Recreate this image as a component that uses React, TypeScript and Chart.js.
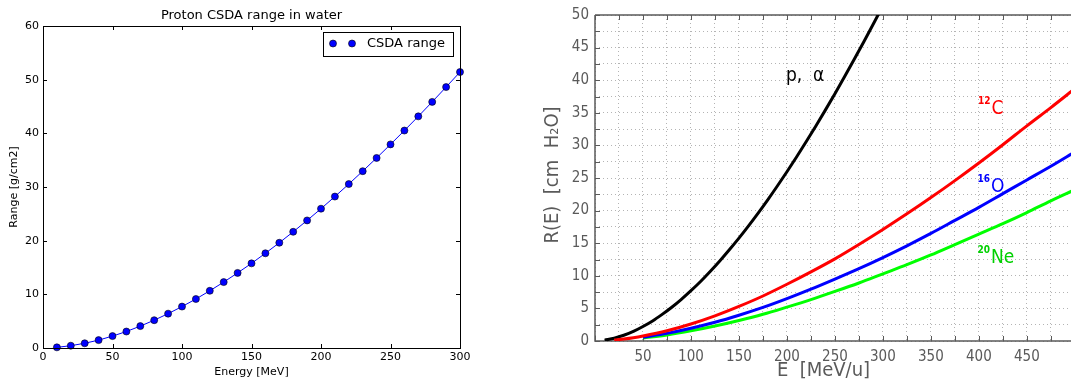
import React, { useEffect, useRef } from 'react';
import { Chart, registerables } from 'chart.js';

Chart.register(...registerables);

// ---------- Left panel data: proton CSDA range in water ----------
const protonEnergy = [10, 20, 30, 40, 50, 60, 70, 80, 90, 100, 110, 120, 130, 140, 150, 160, 170, 180, 190, 200, 210, 220, 230, 240, 250, 260, 270, 280, 290, 300];
const protonRange = [0.12, 0.43, 0.88, 1.47, 2.22, 3.07, 4.08, 5.18, 6.4, 7.72, 9.13, 10.66, 12.28, 13.99, 15.77, 17.65, 19.61, 21.65, 23.77, 25.96, 28.22, 30.55, 32.95, 35.41, 37.94, 40.52, 43.16, 45.86, 48.62, 51.42];
const leftXTicks = [0, 50, 100, 150, 200, 250, 300];
const leftYTicks = [0, 10, 20, 30, 40, 50, 60];

// ---------- Right panel data: ion ranges R(E) in water ----------
const carbonEnergy = [20, 30, 40, 50, 75, 100, 125, 150, 175, 200, 225, 250, 275, 300, 325, 350, 375, 400, 425, 450, 475, 500];
const carbonRange = [0.14, 0.3, 0.5, 0.76, 1.56, 2.6, 3.85, 5.3, 6.9, 8.7, 10.6, 12.6, 14.8, 17.1, 19.5, 22.0, 24.6, 27.3, 30.1, 33.0, 35.8, 38.7];
const heavyEnergy = [50, 75, 100, 125, 150, 175, 200, 225, 250, 275, 300, 325, 350, 375, 400, 425, 450, 475, 500];
const oxygenRange = [0.57, 1.17, 1.95, 2.87, 3.95, 5.15, 6.5, 7.95, 9.5, 11.1, 12.8, 14.6, 16.5, 18.5, 20.5, 22.6, 24.7, 26.8, 29.0];
const neonRange = [0.45, 0.93, 1.56, 2.3, 3.15, 4.1, 5.2, 6.35, 7.6, 8.9, 10.3, 11.7, 13.2, 14.8, 16.4, 18.0, 19.7, 21.5, 23.2];
const rightXGrid = [0, 25, 50, 75, 100, 125, 150, 175, 200, 225, 250, 275, 300, 325, 350, 375, 400, 425, 450, 475];
const rightXLabels = [50, 100, 150, 200, 250, 300, 350, 400, 450];
const rightYGrid = [0, 2.5, 5, 7.5, 10, 12.5, 15, 17.5, 20, 22.5, 25, 27.5, 30, 32.5, 35, 37.5, 40, 42.5, 45, 47.5, 50];
const rightYLabels = [0, 5, 10, 15, 20, 25, 30, 35, 40, 45, 50];

const FONT = "'DejaVu Sans', sans-serif";
const RFONT = "'DejaVu Sans Condensed', 'DejaVu Sans', sans-serif";
const GRAYTXT = '#5a5a5a';

const xy = (xs: number[], ys: number[]) => xs.map((x, i) => ({ x, y: ys[i] }));

// ---------- Left decorations ----------
const leftDecor = {
  id: 'leftDecor',
  afterDraw(chart: any) {
    const { ctx, chartArea: a, scales } = chart;
    ctx.save();
    ctx.strokeStyle = '#000';
    ctx.lineWidth = 1;
    ctx.strokeRect(Math.round(a.left) + 0.5, Math.round(a.top) + 0.5, Math.round(a.right - a.left), Math.round(a.bottom - a.top));
    ctx.beginPath();
    leftXTicks.forEach((v) => {
      const x = Math.round(scales.x.getPixelForValue(v)) + 0.5;
      ctx.moveTo(x, a.bottom); ctx.lineTo(x, a.bottom - 4);
      ctx.moveTo(x, a.top); ctx.lineTo(x, a.top + 4);
    });
    leftYTicks.forEach((v) => {
      const y = Math.round(scales.y.getPixelForValue(v)) + 0.5;
      ctx.moveTo(a.left, y); ctx.lineTo(a.left + 4, y);
      ctx.moveTo(a.right, y); ctx.lineTo(a.right - 4, y);
    });
    ctx.stroke();
    ctx.fillStyle = '#000';
    ctx.font = `13px ${FONT}`;
    ctx.textAlign = 'center';
    ctx.textBaseline = 'middle';
    ctx.fillText('Proton CSDA range in water', (a.left + a.right) / 2, 16);
    ctx.font = `11px ${FONT}`;
    ctx.fillText('Energy [MeV]', (a.left + a.right) / 2, 372);
    ctx.save();
    ctx.translate(14, (a.top + a.bottom) / 2);
    ctx.rotate(-Math.PI / 2);
    ctx.fillText('Range [g/cm2]', 0, 0);
    ctx.restore();
    // legend
    ctx.fillStyle = '#fff';
    ctx.fillRect(323.5, 32.5, 130, 24);
    ctx.strokeStyle = '#000';
    ctx.lineWidth = 1;
    ctx.strokeRect(323.5, 32.5, 130, 24);
    [333, 352].forEach((mx) => {
      ctx.beginPath();
      ctx.arc(mx, 43.5, 3.5, 0, Math.PI * 2);
      ctx.fillStyle = '#0000ff';
      ctx.fill();
      ctx.lineWidth = 0.6;
      ctx.strokeStyle = '#000';
      ctx.stroke();
    });
    ctx.fillStyle = '#000';
    ctx.font = `13px ${FONT}`;
    ctx.textAlign = 'left';
    ctx.fillText('CSDA range', 367, 44);
    ctx.restore();
  },
};

// ---------- Right decorations ----------
const drawIso = (ctx: any, sup: string, main: string, x: number, baseline: number, color: string) => {
  ctx.fillStyle = color;
  ctx.textAlign = 'left';
  ctx.textBaseline = 'alphabetic';
  ctx.font = `bold 10px ${RFONT}`;
  ctx.fillText(sup, x, baseline - 10);
  const w = ctx.measureText(sup).width;
  ctx.font = `19px ${RFONT}`;
  ctx.fillText(main, x + w + 1, baseline);
};

const rightDecor = {
  id: 'rightDecor',
  beforeDatasetsDraw(chart: any) {
    const { ctx, chartArea: a, scales } = chart;
    ctx.save();
    ctx.strokeStyle = '#5a5a5a';
    ctx.lineWidth = 1.5;
    ctx.beginPath();
    ctx.moveTo(a.left, a.top); ctx.lineTo(a.left, a.bottom); ctx.lineTo(a.right, a.bottom);
    ctx.moveTo(a.left, a.top); ctx.lineTo(a.right, a.top);
    ctx.stroke();
    ctx.lineWidth = 1;
    ctx.beginPath();
    rightXGrid.forEach((v) => {
      const x = Math.round(scales.x.getPixelForValue(v)) + 0.5;
      ctx.moveTo(x, a.bottom); ctx.lineTo(x, a.bottom - 5);
      ctx.moveTo(x, a.top); ctx.lineTo(x, a.top + 5);
    });
    rightYGrid.forEach((v) => {
      const y = Math.round(scales.y.getPixelForValue(v)) + 0.5;
      ctx.moveTo(a.left, y); ctx.lineTo(a.left + 5, y);
    });
    ctx.stroke();
    ctx.restore();
  },
  afterDraw(chart: any) {
    const { ctx, scales } = chart;
    ctx.save();
    ctx.fillStyle = GRAYTXT;
    ctx.textAlign = 'center';
    ctx.textBaseline = 'middle';
    ctx.font = `20px ${RFONT}`;
    ctx.fillText('E  [MeV/u]', 303.5, 371);
    ctx.save();
    ctx.translate(33, 175);
    ctx.rotate(-Math.PI / 2);
    ctx.fillText('R(E)  [cm  H\u2082O]', 0, 0);
    ctx.restore();
    const X = (v: number) => scales.x.getPixelForValue(v);
    const Y = (v: number) => scales.y.getPixelForValue(v);
    ctx.fillStyle = '#000';
    ctx.textAlign = 'left';
    ctx.textBaseline = 'alphabetic';
    ctx.font = `19px ${RFONT}`;
    ctx.fillText('p,  \u03b1', X(199), Y(39.9));
    drawIso(ctx, '12', 'C', X(399), Y(34.8), '#ff0000');
    drawIso(ctx, '16', 'O', X(398.5), Y(22.9), '#0000ff');
    drawIso(ctx, '20', 'Ne', X(398.5), Y(11.9), '#00d000');
    ctx.restore();
  },
};

export default function App() {
  const leftRef = useRef<HTMLCanvasElement>(null);
  const rightRef = useRef<HTMLCanvasElement>(null);

  useEffect(() => {
    const left = new Chart(leftRef.current as HTMLCanvasElement, {
      type: 'line',
      data: {
        datasets: [
          {
            label: 'CSDA range',
            data: xy(protonEnergy, protonRange),
            borderColor: '#0000ff',
            backgroundColor: '#0000ff',
            borderWidth: 1,
            pointRadius: 3.5,
            pointBackgroundColor: '#0000ff',
            pointBorderColor: '#000',
            pointBorderWidth: 0.6,
            tension: 0,
            clip: 5,
          } as any,
        ],
      },
      options: {
        animation: false,
        responsive: false,
        devicePixelRatio: 1,
        layout: { padding: { top: 26, right: 60, left: 0, bottom: 0 } },
        plugins: { legend: { display: false }, tooltip: { enabled: false }, title: { display: false } },
        scales: {
          x: {
            type: 'linear',
            min: 0,
            max: 300,
            afterBuildTicks: (s: any) => { s.ticks = leftXTicks.map((value) => ({ value })); },
            afterFit: (s: any) => { s.height = 32; },
            grid: { display: false, drawTicks: false },
            border: { display: false },
            ticks: { color: '#000', font: { family: FONT, size: 11 }, padding: 3, maxRotation: 0, autoSkip: false },
          },
          y: {
            type: 'linear',
            min: 0,
            max: 60,
            afterBuildTicks: (s: any) => { s.ticks = leftYTicks.map((value) => ({ value })); },
            afterFit: (s: any) => { s.width = 43; },
            grid: { display: false, drawTicks: false },
            border: { display: false },
            ticks: { color: '#000', font: { family: FONT, size: 11 }, padding: 4, autoSkip: false },
          },
        },
      } as any,
      plugins: [leftDecor],
    });

    const right = new Chart(rightRef.current as HTMLCanvasElement, {
      type: 'line',
      data: {
        datasets: [
          { label: '12C', data: xy(carbonEnergy, carbonRange), borderColor: '#ff0000' },
          { label: '16O', data: xy(heavyEnergy, oxygenRange), borderColor: '#0000ff' },
          { label: '20Ne', data: xy(heavyEnergy, neonRange), borderColor: '#00ff00' },
          { label: 'p, alpha', data: xy(protonEnergy, protonRange), borderColor: '#000000' },
        ].map((d) => ({ ...d, borderWidth: 3, pointRadius: 0, cubicInterpolationMode: 'monotone', fill: false })) as any,
      },
      options: {
        animation: false,
        responsive: false,
        devicePixelRatio: 1,
        layout: { padding: { top: 5, right: 0, left: 0, bottom: 0 } },
        plugins: { legend: { display: false }, tooltip: { enabled: false }, title: { display: false } },
        scales: {
          x: {
            type: 'linear',
            min: 0,
            max: 496,
            afterBuildTicks: (s: any) => { s.ticks = rightXGrid.map((value) => ({ value })); },
            afterFit: (s: any) => { s.height = 39; },
            grid: { display: true, drawTicks: false, color: '#b4b4b4', lineWidth: 1 },
            border: { display: false, dash: [1, 3] },
            ticks: {
              color: GRAYTXT,
              font: { family: RFONT, size: 15 },
              padding: 7,
              maxRotation: 0,
              autoSkip: false,
              callback: (v: any) => (rightXLabels.includes(Number(v)) ? String(v) : ''),
            },
          },
          y: {
            type: 'linear',
            min: 0,
            max: 50,
            afterBuildTicks: (s: any) => { s.ticks = rightYGrid.map((value) => ({ value })); },
            afterFit: (s: any) => { s.width = 75; },
            grid: { display: true, drawTicks: false, color: '#b4b4b4', lineWidth: 1 },
            border: { display: false, dash: [1, 3] },
            ticks: {
              color: GRAYTXT,
              font: { family: RFONT, size: 15 },
              padding: 6,
              autoSkip: false,
              callback: (v: any) => (rightYLabels.includes(Number(v)) ? String(v) : ''),
            },
          },
        },
      } as any,
      plugins: [rightDecor],
    });

    return () => {
      left.destroy();
      right.destroy();
    };
  }, []);

  return (
    <div style={{ position: 'absolute', left: 0, top: 0, width: 1071, height: 380, background: '#fff' }}>
      <canvas ref={leftRef} width={520} height={380} style={{ position: 'absolute', left: 0, top: 0, width: 520, height: 380 }} />
      <canvas ref={rightRef} width={551} height={380} style={{ position: 'absolute', left: 520, top: 0, width: 551, height: 380 }} />
    </div>
  );
}
